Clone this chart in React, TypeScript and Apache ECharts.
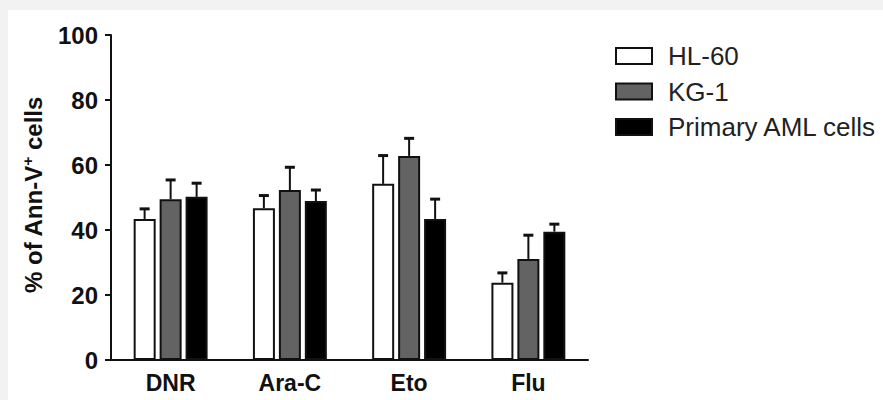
import React, { useEffect, useRef } from "react";
import * as echarts from "echarts";

const categories = ["DNR", "Ara-C", "Eto", "Flu"];
const seriesNames = ["HL-60", "KG-1", "Primary AML cells"];
const hl60Mean = [43.4, 46.7, 54.2, 23.8];
const hl60Err = [3.1, 3.9, 8.7, 3.0];
const kg1Mean = [49.5, 52.3, 62.8, 31.1];
const kg1Err = [5.9, 7.0, 5.4, 7.3];
const amlMean = [50.2, 48.9, 43.4, 39.5];
const amlErr = [4.2, 3.4, 6.1, 2.3];
const yTicks = { min: 0, max: 100, interval: 20 };

const FONT = "'Liberation Sans', Arial, Helvetica, sans-serif";
const fills = ["#ffffff", "#636363", "#000000"];

export default function App() {
  const ref = useRef<HTMLDivElement>(null);
  useEffect(() => {
    if (!ref.current) return;
    const chart = echarts.init(ref.current, undefined, { renderer: "svg" });
    const means = [hl60Mean, kg1Mean, amlMean];
    const errs = [hl60Err, kg1Err, amlErr];
    const offsets = [-26, 0, 26];

    const barSeries = seriesNames.map((name, i) => ({
      name,
      type: "bar",
      data: means[i],
      barWidth: 22,
      barGap: "18%",
      itemStyle: { color: fills[i], borderColor: "#111", borderWidth: 2 },
      z: 2,
    }));

    const errSeries = seriesNames.map((name, i) => ({
      name: name + " err",
      type: "custom",
      data: means[i].map((m, j) => [j, m, m + errs[i][j]]),
      encode: { x: 0, y: [1, 2] },
      z: 3,
      renderItem: (params: any, api: any) => {
        const base = api.coord([api.value(0), api.value(1)]);
        const top = api.coord([api.value(0), api.value(2)]);
        const cx = base[0] + offsets[i];
        return {
          type: "group",
          children: [
            {
              type: "line",
              shape: { x1: cx, y1: base[1], x2: cx, y2: top[1] },
              style: { stroke: "#111", lineWidth: 2 },
            },
            {
              type: "line",
              shape: { x1: cx - 5, y1: top[1], x2: cx + 5, y2: top[1] },
              style: { stroke: "#111", lineWidth: 3 },
            },
          ],
        };
      },
    }));

    chart.setOption({
      animation: false,
      backgroundColor: "#f2f2f2",
      textStyle: { fontFamily: FONT },
      graphic: [
        {
          type: "rect",
          z: -10,
          silent: true,
          shape: { x: 8, y: 10, width: 883, height: 400 },
          style: { fill: "#ffffff" },
        },
        {
          type: "text",
          x: 33,
          y: 195,
          rotation: Math.PI / 2,
          style: {
            text: "{a|% of Ann-V}{b|+}{a| cells}",
            align: "center",
            verticalAlign: "middle",
            rich: {
              a: { fontSize: 24, fontWeight: "bold", fontFamily: FONT, fill: "#111", lineHeight: 26 },
              b: { fontSize: 15, fontWeight: "bold", fontFamily: FONT, fill: "#111", lineHeight: 26, padding: [0, 0, 11, 0] },
            },
          },
        },
      ],
      legend: {
        data: seriesNames,
        orient: "vertical",
        left: 610,
        top: 38,
        itemWidth: 36,
        itemHeight: 16,
        itemGap: 9.5,
        icon: "rect",
        textStyle: { fontSize: 26, lineHeight: 26, color: "#222", fontFamily: FONT, padding: [0, 0, 0, 11] },
      },
      grid: { left: 111, right: 295, top: 35, bottom: 40, containLabel: false },
      xAxis: {
        type: "category",
        data: categories,
        axisLine: { lineStyle: { color: "#111", width: 2 } },
        axisTick: { alignWithLabel: true, length: 6, lineStyle: { color: "#111", width: 2 } },
        axisLabel: { fontSize: 23, fontWeight: "bold", color: "#111", margin: 11, fontFamily: FONT },
      },
      yAxis: {
        type: "value",
        min: yTicks.min,
        max: yTicks.max,
        interval: yTicks.interval,
        splitLine: { show: false },
        axisLine: { show: true, lineStyle: { color: "#111", width: 2 } },
        axisTick: { show: true, length: 6, lineStyle: { color: "#111", width: 2 } },
        axisLabel: { fontSize: 24, fontWeight: "bold", color: "#111", margin: 13, fontFamily: FONT },
      },
      series: [...barSeries, ...errSeries],
    });
    return () => chart.dispose();
  }, []);
  return (
    <div
      ref={ref}
      style={{ position: "fixed", left: 0, top: 0, width: 883, height: 400 }}
    />
  );
}
